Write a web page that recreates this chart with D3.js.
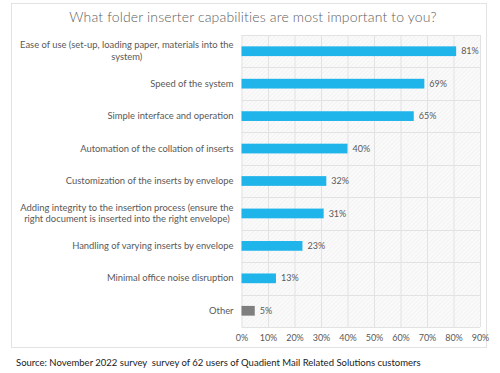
<!DOCTYPE html>
<html>
<head>
<meta charset="utf-8">
<script src="https://cdn.jsdelivr.net/npm/d3@7"></script>
<style>
  body { margin: 0; background: #fff; }
  svg text { font-family: Lato, "Noto Sans", sans-serif; white-space: pre; }
</style>
</head>
<body>
<div id="chart"></div>
<script>
// survey answers, top to bottom
var categories = [
  "Ease of use (set-up, loading paper, materials into the\nsystem)",
  "Speed of the system",
  "Simple interface and operation",
  "Automation of the collation of inserts",
  "Customization of the inserts by envelope",
  "Adding integrity to the insertion process (ensure the\nright document is inserted into the right envelope)",
  "Handling of varying inserts by envelope",
  "Minimal office noise disruption",
  "Other"
];
var values = [81, 69, 65, 40, 32, 31, 23, 13, 5];
var xTicks = [0, 10, 20, 30, 40, 50, 60, 70, 80, 90];
var title = "What folder inserter capabilities are most important to you?";
var source = "Source: November 2022 survey  survey of 62 users of Quadient Mail Related Solutions customers";

var width = 500, height = 373;
var margin = { top: 35, right: 20, bottom: 46, left: 241.5 };
var plotW = 480 - margin.left, plotH = 327 - margin.top;

var svg = d3.select("#chart").append("svg")
    .attr("width", width).attr("height", height);

// hatch pattern for plot background
var defs = svg.append("defs");
var pat = defs.append("pattern")
    .attr("id", "hatch")
    .attr("patternUnits", "userSpaceOnUse")
    .attr("width", 3).attr("height", 3)
    .attr("patternTransform", "rotate(45)");
pat.append("rect").attr("width", 3).attr("height", 3).attr("fill", "#fafafa");
pat.append("line").attr("x1", 0).attr("y1", 0).attr("x2", 0).attr("y2", 3)
    .attr("stroke", "#ececec").attr("stroke-width", 1);

// outer frame
svg.append("rect")
    .attr("x", 11.5).attr("y", 3.5).attr("width", 475).attr("height", 344)
    .attr("fill", "#fff").attr("stroke", "#e3e3e3");

svg.append("text")
    .attr("x", 253).attr("y", 22)
    .attr("text-anchor", "middle")
    .attr("font-size", 14)
    .attr("font-weight", 300)
    .attr("letter-spacing", 0.15)
    .attr("fill", "#606060")
    .text(title);

var x = d3.scaleLinear().domain([0, 90]).range([0, plotW]);
var y = d3.scaleBand().domain(categories).range([0, plotH]).paddingInner(0.7).paddingOuter(0.35);
var yBand = d3.scaleBand().domain(categories).range([0, plotH]);

var g = svg.append("g").attr("transform", "translate(" + margin.left + "," + margin.top + ")");

g.append("rect").attr("width", plotW).attr("height", plotH).attr("fill", "url(#hatch)");

// vertical grid
g.selectAll("line.vg").data(xTicks).enter().append("line")
    .attr("class", "vg")
    .attr("x1", function(d) { return x(d) + 0.5; })
    .attr("x2", function(d) { return x(d) + 0.5; })
    .attr("y1", 0).attr("y2", plotH)
    .attr("stroke", "#e2e2e2");

// horizontal grid at band edges
var edges = categories.map(function(c) { return yBand(c); }).concat([plotH]);
g.selectAll("line.hg").data(edges).enter().append("line")
    .attr("class", "hg")
    .attr("x1", 0).attr("x2", plotW)
    .attr("y1", function(d) { return Math.round(d) + 0.5; })
    .attr("y2", function(d) { return Math.round(d) + 0.5; })
    .attr("stroke", "#e2e2e2");

// bars
g.selectAll("rect.bar").data(values).enter().append("rect")
    .attr("class", "bar")
    .attr("x", 0)
    .attr("y", function(d, i) { return y(categories[i]); })
    .attr("width", function(d) { return x(d); })
    .attr("height", y.bandwidth())
    .attr("fill", function(d, i) { return categories[i] === "Other" ? "#7f7f7f" : "#1fb4ea"; });

// value labels
g.selectAll("text.val").data(values).enter().append("text")
    .attr("class", "val")
    .attr("x", function(d) { return x(d) + 5; })
    .attr("y", function(d, i) { return y(categories[i]) + y.bandwidth() / 2; })
    .attr("dy", "0.35em")
    .attr("font-size", 9)
    .attr("fill", "#595959")
    .text(function(d) { return d + "%"; });

// category labels, two-line ones have the short line centred under the long one
var yAxis = d3.axisLeft(yBand).tickSize(0).tickPadding(8);
var ya = g.append("g").call(yAxis);
ya.select(".domain").remove();
ya.selectAll(".tick text")
    .attr("font-size", 9.4)
    .attr("fill", "#595959")
    .attr("font-family", null)
    .attr("dy", null)
    .each(function(d) {
      var lines = d.split("\n");
      var t = d3.select(this).text(null);
      lines.forEach(function(l, i) {
        t.append("tspan")
          .attr("x", -8)
          .attr("dy", i === 0 ? (0.32 - (lines.length - 1) * 0.62) + "em" : "1.25em")
          .text(l);
      });
      if (lines.length > 1) {
        var spans = t.selectAll("tspan").nodes();
        var w0 = spans[0].getComputedTextLength();
        t.attr("text-anchor", "middle");
        d3.selectAll(spans).attr("x", -8 - w0 / 2);
      }
    });

// x axis
var xAxis = d3.axisBottom(x).tickValues(xTicks).tickSize(0).tickPadding(8)
    .tickFormat(function(d) { return d + "%"; });
var xa = g.append("g").attr("transform", "translate(0," + plotH + ")").call(xAxis);
xa.select(".domain").remove();
xa.selectAll(".tick text").attr("font-size", 9).attr("fill", "#595959").attr("font-family", null);

svg.append("text")
    .attr("x", 16).attr("y", 366)
    .attr("font-size", 9.5)
    .attr("fill", "#1a1a1a")
    .text(source);
</script>
</body>
</html>
